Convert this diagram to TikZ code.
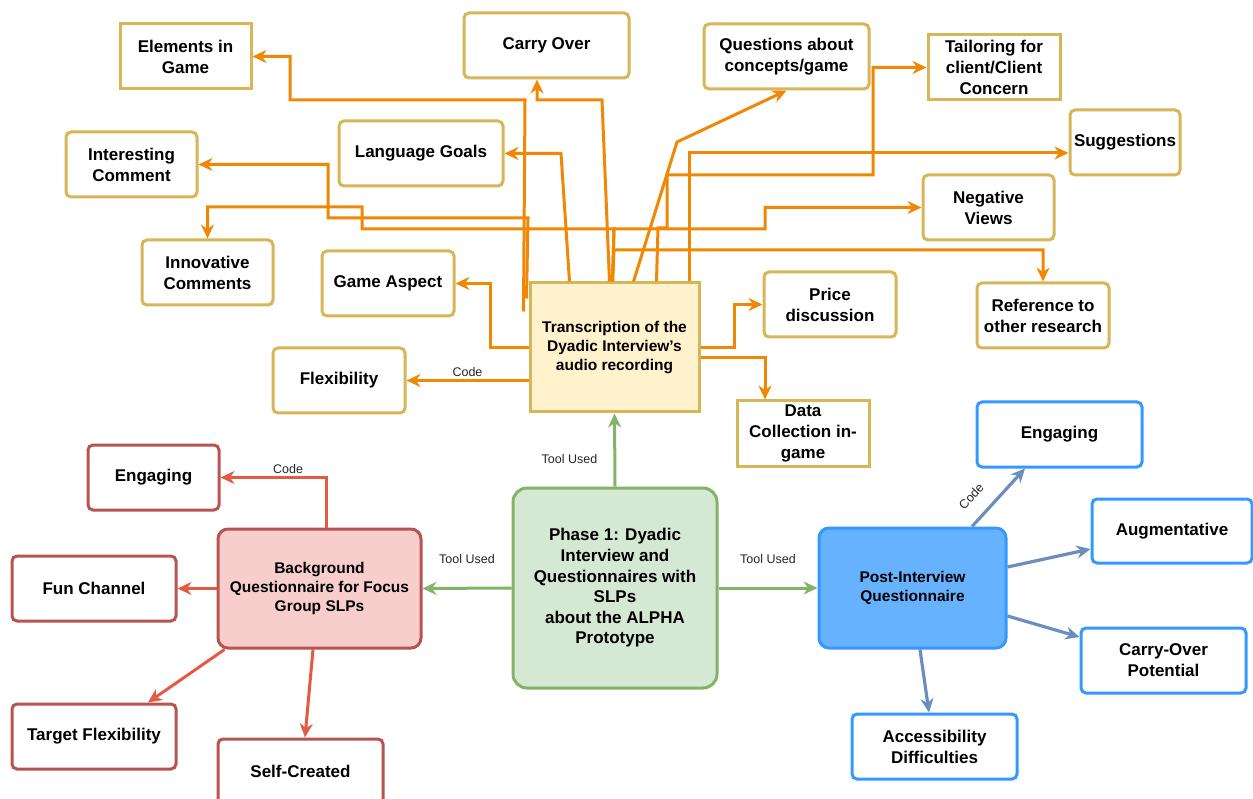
\documentclass[tikz,border=0pt]{standalone}
\usepackage{fontspec}
\setmainfont{Liberation Sans}
\usetikzlibrary{arrows.meta}
\definecolor{goldline}{HTML}{D6B656}
\definecolor{creamfill}{HTML}{FFF2CC}
\definecolor{orangeline}{HTML}{F08705}
\definecolor{redline}{HTML}{B85450}
\definecolor{redfill}{HTML}{F8CECC}
\definecolor{redarrow}{HTML}{E45B43}
\definecolor{greenline}{HTML}{82B366}
\definecolor{greenfill}{HTML}{D5E8D4}
\definecolor{blueline}{HTML}{3399FF}
\definecolor{bluefill}{HTML}{66B2FF}
\definecolor{bluearrow}{HTML}{6C8EBF}

\begin{document}
\begin{tikzpicture}[x=1pt,y=-1pt,
  box/.style={draw, line width=3pt, inner sep=0pt, align=center, text=black, fill=white,
    font=\fontsize{17}{21}\selectfont\bfseries},
  gbox/.style={box, draw=goldline, rounded corners=5pt},
  gsharp/.style={box, draw=goldline},
  rbox/.style={box, draw=redline, rounded corners=5pt},
  bbox/.style={box, draw=blueline, rounded corners=5pt},
  small/.style={minimum width=#1, minimum height=65pt},
  tipped/.style={-{Stealth[length=14pt,width=13pt,inset=4.5pt]}},
  olink/.style={tipped, draw=orangeline, line width=3pt},
  rlink/.style={tipped, draw=redarrow, line width=3pt},
  glink/.style={tipped, draw=greenline, line width=3pt},
  blink/.style={tipped, draw=bluearrow, line width=3.2pt},
  lbl/.style={font=\fontsize{12.5}{15}\selectfont, text=black!85, inner sep=1pt}
]
\useasboundingbox (0,0) rectangle (1253,799);
\fill[white] (0,0) rectangle (1253,799);
\clip (0,0) rectangle (1253,799);

% ---------- transcription and its codes ----------
\node[box, draw=goldline, fill=creamfill, minimum width=169pt, minimum height=129pt,
  font=\fontsize{15.5}{19}\selectfont\bfseries] (tr) at (614.5,347.5)
  {Transcription of the\\Dyadic Interview’s\\audio recording};

\node[gsharp, small=131pt] (el) at (185.5,56.5) {Elements in\\Game};
\node[gbox, small=165pt] (co) at (546.5,45.5) {Carry Over};
\node[gbox, small=165pt] (qa) at (786.5,56.5) {Questions about\\concepts/game};
\node[gsharp, small=132pt] (tc) at (994,67.5) {Tailoring for\\client/Client\\Concern};
\node[gbox, small=110pt] (sg) at (1125,142.5) {Suggestions};
\node[gbox, small=131pt] (nv) at (988.5,207.5) {Negative\\Views};
\node[gbox, small=132pt] (rf) at (1043,315.5) {Reference to\\other research};
\node[gbox, small=132pt] (pr) at (830,304.5) {Price\\discussion};
\node[gsharp, small=132pt] (dc) at (803,433.5) {Data\\Collection in-\\game};
\node[gbox, small=132pt] (fl) at (339,380.5) {Flexibility};
\node[gbox, small=132pt] (ga) at (388,283.5) {Game Aspect};
\node[gbox, small=164pt] (lg) at (421,153.5) {Language Goals};
\node[gbox, small=131pt] (ic) at (131.5,164.5) {Interesting\\Comment};
\node[gbox, small=131pt] (in) at (207.5,272.5) {Innovative\\Comments};

% ---------- central phase box ----------
\node[box, draw=greenline, fill=greenfill, rounded corners=14pt, minimum width=204pt,
  minimum height=200pt, font=\fontsize{17}{20.6}\selectfont\bfseries] (ph) at (615,588)
  {Phase 1: Dyadic\\Interview and\\Questionnaires with\\SLPs\\about the ALPHA\\Prototype};

% ---------- background questionnaire ----------
\node[rbox, fill=redfill, rounded corners=10pt, minimum width=203pt, minimum height=119pt,
  font=\fontsize{15.5}{19}\selectfont\bfseries] (bg) at (319.5,588.5)
  {Background\\Questionnaire for Focus\\Group SLPs};
\node[rbox, small=131pt] (re) at (153.5,477.5) {Engaging};
\node[rbox, small=164pt] (fc) at (94,588.5) {Fun Channel};
\node[rbox, small=164pt] (tf) at (94,736.5) {Target Flexibility};
\node[rbox, small=165pt] (sc) at (300.5,771.5) {Self-Created};

% ---------- post-interview questionnaire ----------
\node[bbox, fill=bluefill, rounded corners=10pt, minimum width=187pt, minimum height=120pt,
  font=\fontsize{15.5}{19}\selectfont\bfseries] (po) at (912.5,588)
  {Post-Interview\\Questionnaire};
\node[bbox, small=165pt] (be) at (1059.5,434.5) {Engaging};
\node[bbox, minimum width=160pt, minimum height=64pt] (au) at (1172,531) {Augmentative};
\node[bbox, small=165pt] (cp) at (1163.5,660.5) {Carry-Over\\Potential};
\node[bbox, small=165pt] (ad) at (934.5,746.5) {Accessibility\\Difficulties};

% ---------- orange code links ----------
\draw[olink] ([xshift=-5pt,yshift=-30pt]tr.north west) -- (525,100) -- (290,100) |- (el.east);
\draw[olink] ([xshift=-2pt,yshift=-17pt]tr.north west) -- (528,218) -- (328,218) |- (ic.east);
\draw[olink] ([xshift=84pt]tr.north west) -- (614,229) -- (362,229) -- (362,207) -| (in.north);
\draw[olink] (tr.west) -- ++(-38,0) |- (ga.east);
\draw[olink] (tr.west |- fl.east) -- node[lbl, above=1pt] {Code} (fl.east);
\draw[olink] ([xshift=41pt]tr.north west) -- (561,153.5) -- (lg.east);
\draw[olink] ([xshift=81pt]tr.north west) -- (602,100) -- (537,100) -- ([xshift=-9.5pt]co.south);
\draw[olink] ([xshift=105pt]tr.north west) -- (677,142) -- (qa.south);
\draw[olink] ([xshift=161pt]tr.north west) |- ([yshift=-10.5pt]sg.west);
\draw[olink] ([xshift=128pt]tr.north west) -- (658,228) -- (667,228) -- (667,175) -- (873,175) |- (tc.west);
\draw[olink] ([xshift=84pt]tr.north west) -- (614,229) -- (765,229) |- (nv.west);
\draw[olink] ([xshift=84pt]tr.north west) -- (614,250) -| (rf.north);
\draw[olink] (tr.east) -- ++(34,0) |- (pr.west);
\draw[olink] ([yshift=-10pt]tr.east) -| ([xshift=-38pt]dc.north);

% ---------- green tool links ----------
\draw[glink] (ph.north) -- node[lbl, pos=0.38, left=15pt] {Tool Used} (tr.south);
\draw[glink] (ph.west) -- node[lbl, above=22pt] {Tool Used} (bg.east);
\draw[glink] (ph.east) -- node[lbl, above=22pt] {Tool Used} (po.west);

% ---------- red code links ----------
\draw[rlink] ([xshift=6.5pt]bg.north) -- (326,477.5) -- node[lbl, above=1pt, pos=0.36] {Code} (re.east);
\draw[rlink] (bg.west) -- (fc.east);
\draw[rlink] ([xshift=8pt]bg.south west) -- ([xshift=54pt]tf.north);
\draw[rlink] ([xshift=-6.5pt]bg.south) -- ([xshift=4.5pt]sc.north);

% ---------- blue code links ----------
\draw[blink] ([xshift=59.5pt]po.north) -- node[lbl, pos=0.28, sloped, above=14pt] {Code} ([xshift=-34.5pt]be.south);
\draw[blink] ([yshift=21pt]po.east) -- ([yshift=-18pt]au.west);
\draw[blink] ([yshift=-28pt]po.east) -- ([yshift=23.5pt]cp.west);
\draw[blink] ([xshift=7.5pt]po.south) -- ([xshift=-5.5pt]ad.north);
\end{tikzpicture}
\end{document}
